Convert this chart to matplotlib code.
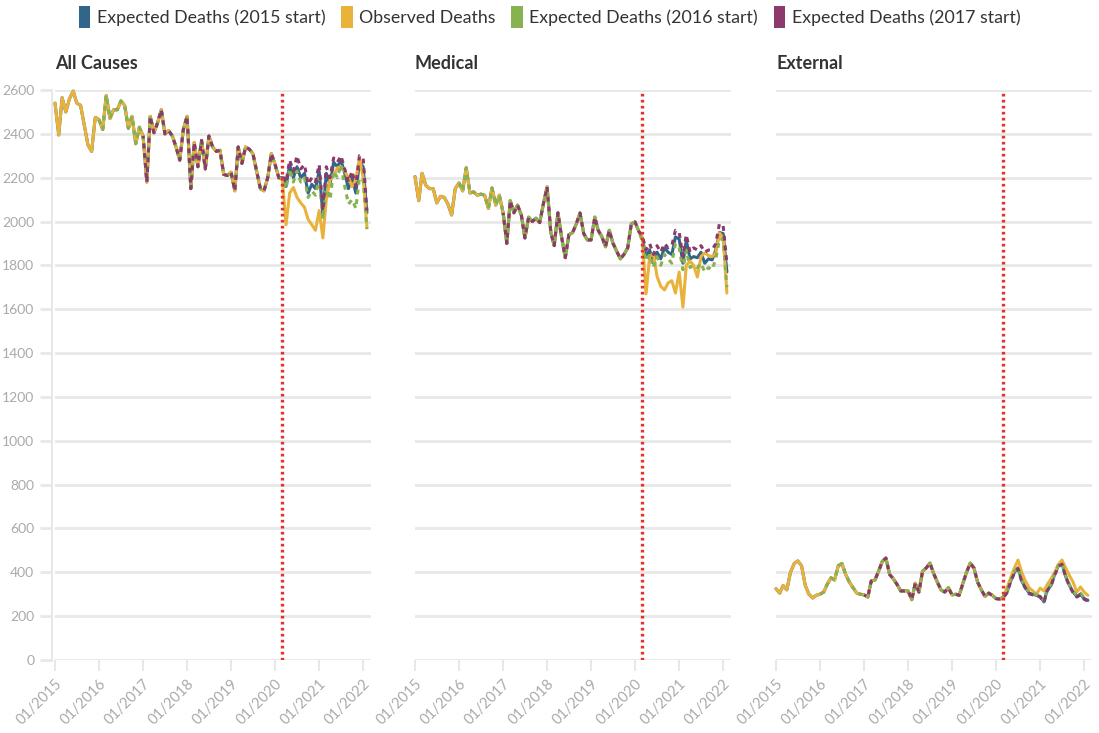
import matplotlib
matplotlib.use("Agg")
import matplotlib.pyplot as plt
import matplotlib.dates as mdates
from matplotlib.patches import Patch
import pandas as pd
import numpy as np

plt.rcParams['font.family'] = ['Lato', 'DejaVu Sans']

months = pd.date_range("2015-01-01", "2022-02-01", freq="MS")
covid_start = pd.Timestamp("2020-03-01")
panel_titles = ["All Causes", "Medical", "External"]
legend_labels = ["Expected Deaths (2015 start)", "Observed Deaths",
                 "Expected Deaths (2016 start)", "Expected Deaths (2017 start)"]
y_ticks = list(range(0, 2601, 200))
x_tick_years = list(range(2015, 2023))

# ---- All Causes ----
all_observed = [2540, 2395, 2565, 2500, 2560, 2595, 2540, 2530, 2440, 2350, 2320, 2475,
                2465, 2420, 2575, 2470, 2510, 2510, 2550, 2530, 2425, 2480, 2355, 2430,
                2390, 2180, 2480, 2405, 2450, 2510, 2400, 2415, 2390, 2340, 2280, 2420,
                2480, 2150, 2360, 2250, 2370, 2240, 2390, 2340, 2320, 2325, 2215, 2210,
                2225, 2140, 2340, 2265, 2340, 2330, 2310, 2230, 2150, 2140, 2200, 2310,
                2260, 2200, 2190, 1985, 2130, 2155, 2110, 2085, 2065, 2010, 1985, 1960,
                2050, 1925, 2100, 2190, 2210, 2245, 2250, 2230, 2200, 2160, 2190, 2290,
                2200, 1975]
all_exp2015_post = [2200, 2160, 2260, 2200, 2250, 2200, 2220, 2130, 2170, 2150, 2230, 2030,
                    2220, 2170, 2270, 2250, 2280, 2220, 2150, 2200, 2130, 2270, 2250, 2040]
all_exp2016_post = [2190, 2150, 2240, 2180, 2230, 2180, 2200, 2110, 2140, 2120, 2200, 2010,
                    2170, 2100, 2230, 2200, 2260, 2160, 2080, 2100, 2060, 2200, 2190, 1965]
all_exp2017_post = [2210, 2180, 2280, 2230, 2300, 2240, 2260, 2170, 2200, 2180, 2260, 2050,
                    2250, 2200, 2290, 2270, 2300, 2240, 2180, 2230, 2160, 2300, 2290, 2050]

# ---- Medical ----
med_observed = [2205, 2095, 2220, 2165, 2150, 2150, 2085, 2115, 2110, 2080, 2030, 2150,
                2176, 2140, 2245, 2130, 2135, 2120, 2125, 2120, 2060, 2153, 2075, 2120,
                2040, 1900, 2095, 2040, 2075, 2030, 1925, 2020, 2000, 2015, 1995, 2080,
                2158, 1950, 1890, 2040, 1930, 1835, 1940, 1950, 1990, 2039, 1945, 1916,
                1916, 2020, 1960, 1930, 1885, 1960, 1902, 1865, 1830, 1850, 1880, 1990,
                1998, 1955, 1925, 1670, 1840, 1855, 1750, 1705, 1688, 1720, 1730, 1674,
                1770, 1610, 1800, 1820, 1800, 1747, 1840, 1857, 1845, 1840, 1855, 1948,
                1925, 1674]
med_exp2015_post = [1925, 1840, 1870, 1810, 1860, 1830, 1880, 1860, 1850, 1930, 1920, 1810,
                    1915, 1830, 1840, 1835, 1860, 1810, 1830, 1825, 1870, 1950, 1945, 1770]
med_exp2016_post = [1910, 1820, 1850, 1790, 1840, 1800, 1850, 1830, 1810, 1900, 1880, 1780,
                    1870, 1790, 1800, 1790, 1810, 1770, 1790, 1780, 1830, 1920, 1920, 1700]
med_exp2017_post = [1935, 1870, 1900, 1850, 1890, 1860, 1900, 1880, 1890, 1960, 1950, 1840,
                    1940, 1860, 1880, 1870, 1890, 1860, 1870, 1870, 1900, 1990, 1980, 1810]

# ---- External ----
ext_observed = [325, 305, 340, 320, 400, 440, 452, 430, 340, 300, 283, 295,
                300, 310, 345, 375, 365, 430, 440, 390, 355, 330, 305, 300,
                297, 287, 360, 365, 405, 450, 465, 390, 370, 345, 315, 315,
                315, 275, 350, 310, 405, 420, 442, 395, 355, 320, 310, 330,
                297, 300, 295, 350, 400, 442, 420, 355, 320, 290, 305, 295,
                280, 278, 290, 330, 374, 420, 456, 400, 360, 330, 315, 300,
                328, 315, 345, 370, 400, 435, 456, 420, 385, 355, 310, 333,
                310, 295]
ext_exp2015_post = [285, 310, 360, 400, 420, 360, 330, 305, 300, 295, 290, 265,
                    320, 340, 390, 430, 440, 380, 340, 310, 290, 300, 280, 272]
ext_exp2016_post = [287, 314, 364, 405, 425, 365, 334, 309, 303, 298, 294, 270,
                    324, 345, 395, 434, 444, 385, 344, 314, 294, 305, 285, 276]
ext_exp2017_post = [283, 307, 357, 397, 417, 357, 327, 302, 297, 292, 287, 262,
                    317, 337, 387, 427, 437, 377, 337, 307, 287, 297, 277, 269]

colors = {"exp2015": "#33658a", "obs": "#e9b23b", "exp2016": "#86b24f", "exp2017": "#8b3a6b"}
n_pre = 62  # months before March 2020 (fitted period equals observed)

panels = [
    (all_observed, all_exp2015_post, all_exp2016_post, all_exp2017_post),
    (med_observed, med_exp2015_post, med_exp2016_post, med_exp2017_post),
    (ext_observed, ext_exp2015_post, ext_exp2016_post, ext_exp2017_post),
]

fig = plt.figure(figsize=(10.99, 7.33), dpi=100)
W, H = 1099, 733
lefts = [55, 415, 776]
width = 316
bottom, top = 660, 90
grid_c = "#e8e8e8"
label_c = "#aaaaaa"

for k, (obs, e15, e16, e17) in enumerate(panels):
    ax = fig.add_axes([lefts[k] / W, 1 - bottom / H, width / W, (bottom - top) / H])
    obs_s = pd.Series(obs, index=months)
    s15 = pd.Series(list(obs[:n_pre]) + list(e15), index=months)
    s16 = pd.Series(list(obs[12:n_pre]) + list(e16), index=months[12:])
    s17 = pd.Series(list(obs[24:n_pre]) + list(e17), index=months[24:])
    kw = dict(lw=2.2, solid_joinstyle="round", solid_capstyle="round", clip_on=False)
    ax.plot(s15.index, s15.values, color=colors["exp2015"], zorder=3, **kw)
    ax.plot(obs_s.index, obs_s.values, color=colors["obs"], zorder=4, **kw)
    ax.plot(s16.index, s16.values, color=colors["exp2016"], zorder=5,
            linestyle=(0, (1.6, 1.6)), lw=2.2, clip_on=False)
    ax.plot(s17.index, s17.values, color=colors["exp2017"], zorder=6,
            linestyle=(0.8, (1.6, 1.6)), lw=2.2, clip_on=False)
    ax.axvline(covid_start, color="#e8302a", lw=2.4, linestyle=(0, (0.8, 1.0)), zorder=7)

    ax.set_ylim(0, 2600)
    ax.set_xlim(pd.Timestamp("2015-01-01"), pd.Timestamp("2022-03-07"))
    ax.set_yticks(y_ticks)
    ax.yaxis.grid(True, color=grid_c, lw=2)
    ax.set_axisbelow(True)
    for sp in ["top", "right", "bottom", "left"]:
        ax.spines[sp].set_visible(False)
    ax.set_xticks([pd.Timestamp(f"{y}-01-01") for y in x_tick_years])
    ax.xaxis.set_major_formatter(mdates.DateFormatter("%m/%Y"))
    ax.tick_params(axis="x", length=8, width=1.5, color=grid_c, labelcolor=label_c,
                   labelsize=10.5, pad=4)
    for lab in ax.get_xticklabels():
        lab.set_rotation(45)
        lab.set_ha("right")
        lab.set_va("top")
        lab.set_rotation_mode("anchor")
    if k == 0:
        ax.spines["left"].set_visible(True)
        ax.spines["left"].set_color(grid_c)
        ax.spines["left"].set_linewidth(1.5)
        ax.spines["left"].set_position(("outward", 2))
        ax.tick_params(axis="y", length=9, width=2, color=grid_c, labelcolor=label_c,
                       labelsize=10, pad=4)
    else:
        ax.tick_params(axis="y", length=0, labelleft=False)
    ax.text(0, 1.047, panel_titles[k], transform=ax.transAxes, fontsize=13,
            fontweight="bold", color="#333333", ha="left", va="center")

handles = [Patch(facecolor=colors[c], edgecolor="none")
           for c in ["exp2015", "obs", "exp2016", "exp2017"]]
fig.legend(handles, legend_labels, loc="center", bbox_to_anchor=(0.5, 1 - 17 / H),
           ncol=4, frameon=False, fontsize=12.8, handlelength=0.65, handleheight=1.5,
           handletextpad=0.35, columnspacing=0.9, labelcolor="#333333")

fig.savefig("out.png", dpi=100, facecolor="white")
